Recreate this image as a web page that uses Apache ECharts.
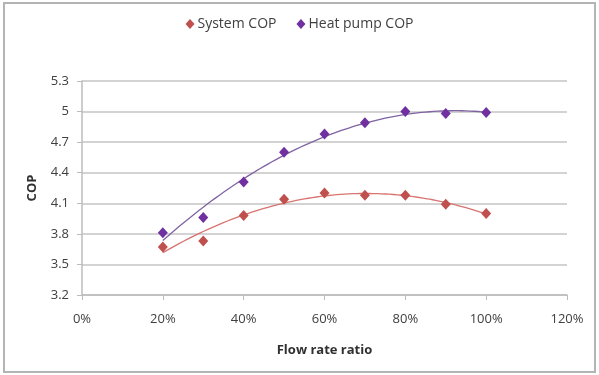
<!DOCTYPE html>
<html>
<head>
<meta charset="utf-8" />
<title>COP vs flow rate ratio</title>
<script src="https://cdn.jsdelivr.net/npm/echarts@6/dist/echarts.min.js"></script>
<style>
  html, body { margin: 0; padding: 0; background: #fff; }
  #main { width: 599px; height: 375px; }
</style>
</head>
<body>
<div id="main"></div>
<script>
// flow rate ratio (%) and read-off COP values
var flowRatio = [20, 30, 40, 50, 60, 70, 80, 90, 100];
var systemCop = [3.67, 3.73, 3.98, 4.14, 4.20, 4.18, 4.18, 4.09, 4.00];
var heatPumpCop = [3.81, 3.96, 4.31, 4.60, 4.78, 4.89, 5.00, 4.98, 4.99];
var xTicks = [0, 20, 40, 60, 80, 100, 120];
var yTicks = [3.2, 3.5, 3.8, 4.1, 4.4, 4.7, 5.0, 5.3];

// least squares polynomial, like an Excel trendline
function polyFit(xs, ys, order) {
  var n = order + 1, A = [], i, j, k;
  for (i = 0; i < n; i++) {
    A[i] = [];
    for (j = 0; j < n; j++) {
      var s = 0;
      for (k = 0; k < xs.length; k++) s += Math.pow(xs[k], i + j);
      A[i][j] = s;
    }
    var t = 0;
    for (k = 0; k < xs.length; k++) t += ys[k] * Math.pow(xs[k], i);
    A[i][n] = t;
  }
  for (i = 0; i < n; i++) {
    for (j = i + 1; j < n; j++) {
      var f = A[j][i] / A[i][i];
      for (k = i; k <= n; k++) A[j][k] -= f * A[i][k];
    }
  }
  var c = [];
  for (i = n - 1; i >= 0; i--) {
    var v = A[i][n];
    for (j = i + 1; j < n; j++) v -= A[i][j] * c[j];
    c[i] = v / A[i][i];
  }
  return c;
}

function trend(xs, ys, order) {
  var c = polyFit(xs.map(function (x) { return x / 100; }), ys, order);
  var out = [];
  for (var x = xs[0]; x <= xs[xs.length - 1] + 0.001; x += 1) {
    var v = 0;
    for (var i = 0; i < c.length; i++) v += c[i] * Math.pow(x / 100, i);
    out.push([x, v]);
  }
  return out;
}

function pairs(xs, ys) {
  return xs.map(function (x, i) { return [x, ys[i]]; });
}

var red = '#C0504D';
var purple = '#7030A0';
var purpleLine = '#8064A2';
var font = 'Open Sans';

var myChart = echarts.init(document.getElementById('main'));
var option = {
  backgroundColor: '#fff',
  animation: false,
  graphic: [{
    type: 'rect',
    shape: { x: 4, y: 3, width: 591, height: 369 },
    style: { fill: 'none', stroke: '#b4b4b4', lineWidth: 2 }
  }],
  legend: {
    top: 12,
    left: 'center',
    itemGap: 20,
    itemWidth: 9,
    itemHeight: 10,
    data: [
      { name: 'System COP', icon: 'diamond' },
      { name: 'Heat pump COP', icon: 'diamond' }
    ],
    textStyle: { fontFamily: font, fontSize: 14, color: '#404040', padding: [0, 0, 0, -2] }
  },
  grid: { left: 82, right: 32, top: 81, bottom: 80 },
  xAxis: {
    type: 'value',
    min: 0, max: 120, interval: 20,
    name: 'Flow rate ratio',
    nameLocation: 'middle',
    nameGap: 49,
    nameTextStyle: { fontFamily: font, fontSize: 13, fontWeight: 'bold', color: '#303030' },
    axisLine: { show: true, lineStyle: { color: '#bcbcbc', width: 1.5 } },
    axisTick: { show: true, length: 5, lineStyle: { color: '#bcbcbc' } },
    axisLabel: { fontFamily: font, fontSize: 13, color: '#404040', margin: 18,
      formatter: function (v) { return v + '%'; } },
    splitLine: { show: false }
  },
  yAxis: {
    type: 'value',
    min: 3.2, max: 5.3, interval: 0.3,
    name: 'COP',
    nameLocation: 'middle',
    nameGap: 43,
    nameTextStyle: { fontFamily: font, fontSize: 13, fontWeight: 'bold', color: '#303030' },
    axisLine: { show: true, lineStyle: { color: '#bcbcbc', width: 1.5 } },
    axisTick: { show: true, length: 5, lineStyle: { color: '#bcbcbc' } },
    axisLabel: { fontFamily: font, fontSize: 13, color: '#404040', margin: 13,
      formatter: function (v) {
        var t = yTicks.filter(function (y) { return Math.abs(y - v) < 1e-6; })[0];
        return t === undefined ? '' : String(Math.round(t * 10) / 10);
      } },
    splitLine: { show: true, lineStyle: { color: '#c4c4c4', width: 1.5 } }
  },
  series: [{
    name: 'System COP',
    type: 'scatter',
    symbol: 'diamond',
    symbolSize: [10, 11],
    itemStyle: { color: red, opacity: 1 },
    data: pairs(flowRatio, systemCop),
    z: 3
  }, {
    name: 'Heat pump COP',
    type: 'scatter',
    symbol: 'diamond',
    symbolSize: [10, 11],
    itemStyle: { color: purple, opacity: 1 },
    data: pairs(flowRatio, heatPumpCop),
    z: 3
  }, {
    name: 'System trend',
    type: 'line',
    showSymbol: false,
    symbol: 'none',
    lineStyle: { color: '#D77470', width: 1.3 },
    data: trend(flowRatio, systemCop, 2),
    z: 2
  }, {
    name: 'Heat pump trend',
    type: 'line',
    showSymbol: false,
    symbol: 'none',
    lineStyle: { color: purpleLine, width: 1.3 },
    data: trend(flowRatio, heatPumpCop, 2),
    z: 2
  }]
};
myChart.setOption(option);
</script>
</body>
</html>
